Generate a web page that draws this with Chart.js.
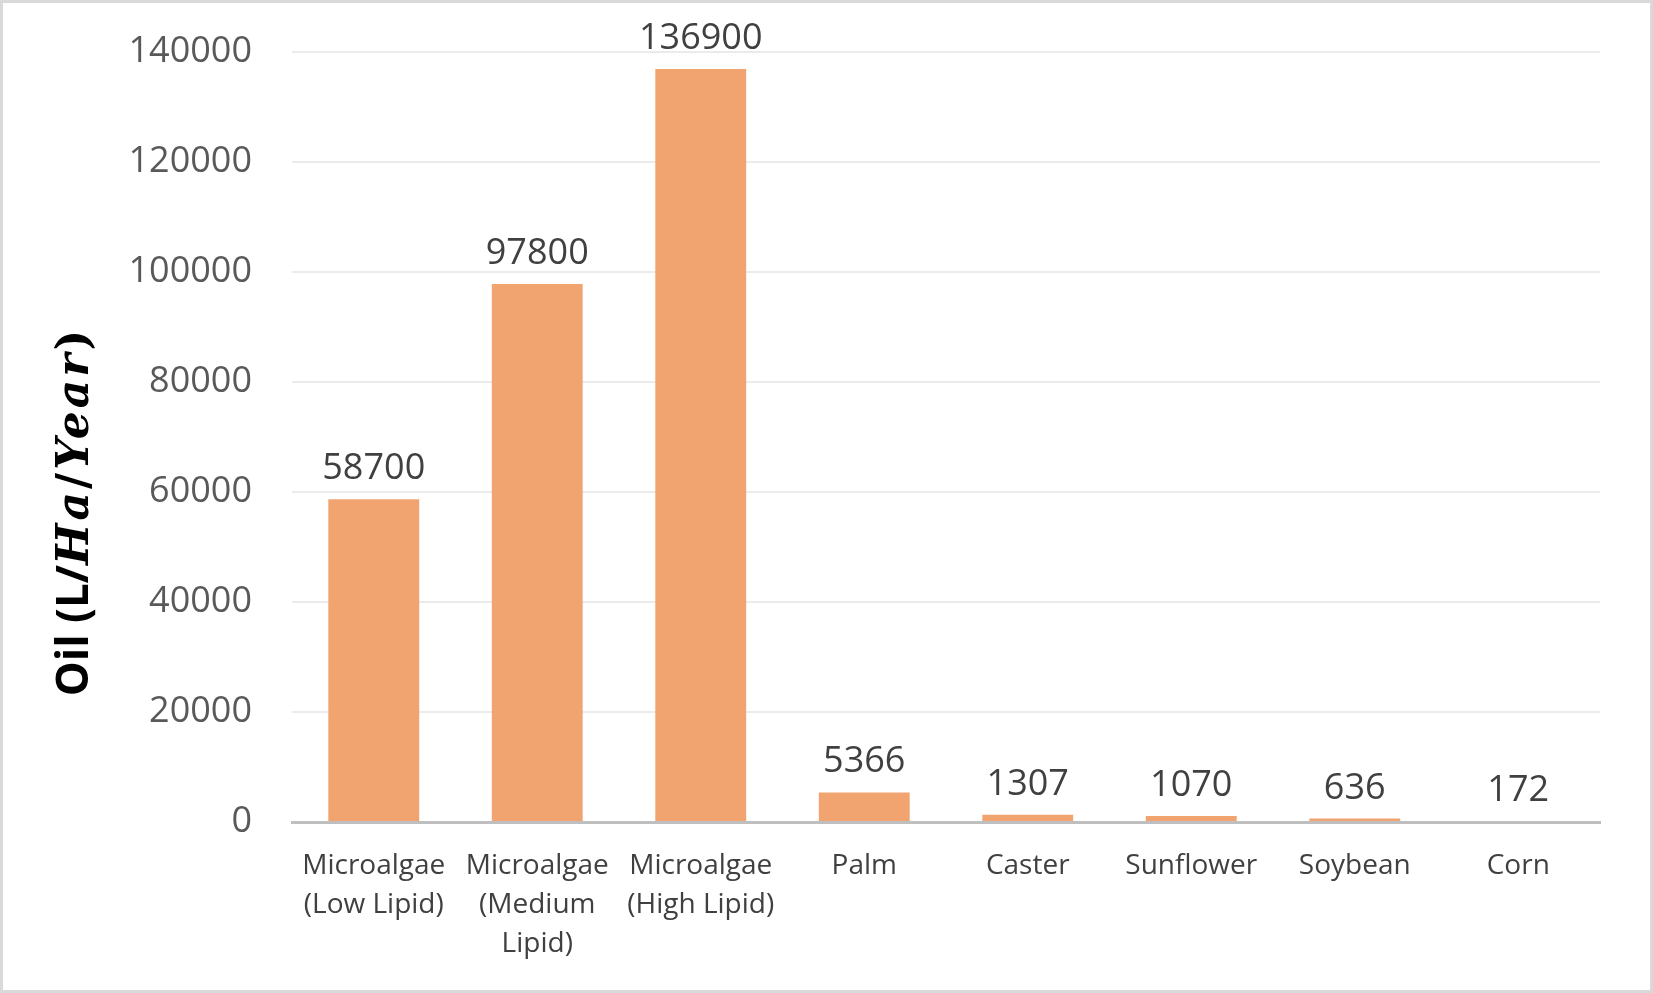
<!DOCTYPE html>
<html>
<head>
<meta charset="utf-8">
<script src="https://cdn.jsdelivr.net/npm/chart.js@4.4.1/dist/chart.umd.min.js"></script>
<style>
  html, body { margin: 0; padding: 0; background: #fff; }
  #wrap {
    width: 1653px; height: 993px; box-sizing: border-box;
    border: 3px solid #d9d9d9; background: #fff;
  }
  #wrap canvas { display: block; }
</style>
</head>
<body>
<div id="wrap"><canvas id="oilChart" width="1647" height="987"></canvas></div>
<script>
var crops = [
  ['Microalgae', '(Low Lipid)'],
  ['Microalgae', '(Medium', 'Lipid)'],
  ['Microalgae', '(High Lipid)'],
  'Palm', 'Caster', 'Sunflower', 'Soybean', 'Corn'
];
var oilYield = [58700, 97800, 136900, 5366, 1307, 1070, 636, 172];
var yTicks = [0, 20000, 40000, 60000, 80000, 100000, 120000, 140000];

// values written above each bar
var valueLabels = {
  id: 'valueLabels',
  afterDatasetsDraw: function(chart) {
    var ctx = chart.ctx;
    var meta = chart.getDatasetMeta(0);
    ctx.save();
    ctx.font = '36px "Open Sans"';
    ctx.fillStyle = '#404040';
    ctx.textAlign = 'center';
    ctx.textBaseline = 'alphabetic';
    meta.data.forEach(function(bar, i) {
      ctx.fillText(String(oilYield[i]), bar.x, bar.y - 20);
    });
    ctx.restore();
  }
};

// y title with mixed fonts like the original (text + math italics)
var yTitle = {
  id: 'yTitle',
  afterDraw: function(chart) {
    var ctx = chart.ctx;
    var parts = [
      { t: 'Oil (L/', f: 'bold 44px "Open Sans"', sp: '0px' },
      { t: 'Ha', f: 'italic bold 44px "DejaVu Serif"', sp: '3px' },
      { t: '/', f: 'bold 44px "DejaVu Serif"', sp: '3px' },
      { t: 'Year', f: 'italic bold 44px "DejaVu Serif"', sp: '3px' },
      { t: ')', f: 'bold 44px "DejaVu Serif"', sp: '0px' }
    ];
    ctx.save();
    var total = 0;
    parts.forEach(function(p) {
      ctx.font = p.f;
      ctx.letterSpacing = p.sp;
      p.w = ctx.measureText(p.t).width;
      total += p.w;
    });
    ctx.translate(85, 510);
    ctx.rotate(-Math.PI / 2);
    ctx.fillStyle = '#000';
    ctx.textBaseline = 'alphabetic';
    ctx.textAlign = 'left';
    var x = -total / 2;
    parts.forEach(function(p) {
      ctx.font = p.f;
      ctx.letterSpacing = p.sp;
      ctx.fillText(p.t, x, 0);
      x += p.w;
    });
    ctx.restore();
  }
};

var ctx = document.getElementById('oilChart');
var oilChart = new Chart(ctx, {
  type: 'bar',
  data: {
    labels: crops,
    datasets: [{
      label: 'Oil',
      data: oilYield,
      backgroundColor: '#f1a46f',
      borderWidth: 0,
      categoryPercentage: 1.0,
      barPercentage: 0.556
    }]
  },
  options: {
    responsive: false,
    animation: false,
    layout: { padding: { top: 49, right: 50, bottom: 0, left: 0 } },
    plugins: {
      legend: { display: false },
      tooltip: { enabled: false }
    },
    scales: {
      x: {
        grid: { display: false, drawTicks: false },
        border: { display: true, color: '#bfbfbf', width: 3 },
        ticks: {
          color: '#404040',
          font: { family: 'Open Sans', size: 28, lineHeight: 1.38 },
          padding: 25,
          maxRotation: 0,
          autoSkip: false
        },
        afterFit: function(scale) { scale.height = 168; }
      },
      y: {
        min: 0,
        max: 140000,
        afterBuildTicks: function(scale) {
          scale.ticks = yTicks.map(function(v) { return { value: v }; });
        },
        grid: { color: '#ebebeb', lineWidth: 2, drawTicks: false },
        border: { display: false },
        ticks: {
          color: '#595959',
          font: { family: 'Open Sans', size: 36 },
          padding: 40,
          callback: function(value) { return String(value); }
        },
        afterFit: function(scale) {
          scale.width = 289;
          scale.paddingTop = 0;
          scale.paddingBottom = 0;
        }
      }
    }
  },
  plugins: [valueLabels, yTitle]
});
</script>
</body>
</html>
